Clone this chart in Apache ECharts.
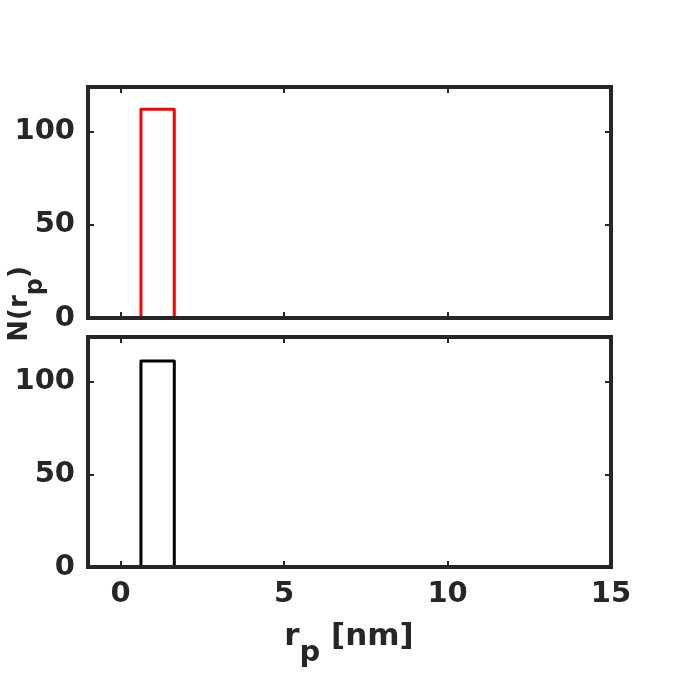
<!DOCTYPE html>
<html>
<head>
<meta charset="utf-8">
<script src="https://cdn.jsdelivr.net/npm/echarts@6/dist/echarts.min.js"></script>
<style>
html, body { margin: 0; padding: 0; background: #fff; }
#chart { width: 675px; height: 675px; }
</style>
</head>
<body>
<div id="chart"></div>
<script>
// histogram data (stairs style), one bin per panel
var binEdges = [0.62, 1.64];
var countsTop = [112];
var countsBottom = [111];
var xTicks = [0, 5, 10, 15];

var axisColor = '#262626';
var font = 'DejaVu Sans';

// turn edges + counts into the outline of a stairs histogram
function stairs(edges, counts) {
    var pts = [[edges[0], 0]];
    for (var i = 0; i < counts.length; i++) {
        pts.push([edges[i], counts[i]]);
        pts.push([edges[i + 1], counts[i]]);
    }
    pts.push([edges[edges.length - 1], 0]);
    return pts;
}

function xAxisOf(grid, pos, labels) {
    return {
        type: 'value', gridIndex: grid, position: pos, min: -1, max: 15,
        axisLine: {show: true, onZero: false, lineStyle: {color: axisColor, width: 4, cap: 'square'}},
        axisTick: {show: true, inside: true, length: 6, customValues: xTicks, lineStyle: {color: axisColor, width: 2}},
        axisLabel: {show: labels, customValues: xTicks, margin: 13, color: axisColor,
            fontFamily: font, fontWeight: 'bold', fontSize: 29},
        splitLine: {show: false},
        z: 5
    };
}

function yAxisOf(grid, pos, labels) {
    return {
        type: 'value', gridIndex: grid, position: pos, min: 0, max: 124, interval: 50,
        axisLine: {show: true, onZero: false, lineStyle: {color: axisColor, width: 4, cap: 'square'}},
        axisTick: {show: true, inside: true, length: 6, lineStyle: {color: axisColor, width: 2}},
        axisLabel: {show: labels, margin: 13, color: axisColor,
            fontFamily: font, fontWeight: 'bold', fontSize: 29,
            showMaxLabel: false},
        splitLine: {show: false},
        z: 5
    };
}

var chart = echarts.init(document.getElementById('chart'));

chart.setOption({
    backgroundColor: '#fff',
    animation: false,
    grid: [
        {left: 88, top: 87, width: 523, height: 231},
        {left: 88, top: 337, width: 523, height: 230}
    ],
    xAxis: [
        xAxisOf(0, 'bottom', false),
        xAxisOf(0, 'top', false),
        xAxisOf(1, 'bottom', true),
        xAxisOf(1, 'top', false)
    ],
    yAxis: [
        yAxisOf(0, 'left', true),
        yAxisOf(0, 'right', false),
        yAxisOf(1, 'left', true),
        yAxisOf(1, 'right', false)
    ],
    series: [
        {
            type: 'line', xAxisIndex: 0, yAxisIndex: 0,
            data: stairs(binEdges, countsTop),
            showSymbol: false,
            lineStyle: {color: '#ff0000', width: 3, join: 'round'},
            z: 2
        },
        {
            type: 'line', xAxisIndex: 2, yAxisIndex: 2,
            data: stairs(binEdges, countsBottom),
            showSymbol: false,
            lineStyle: {color: '#000000', width: 3, join: 'round'},
            z: 2
        }
    ],
    graphic: [
        {
            type: 'text', x: 349, y: 645,
            style: {
                text: '{a|r}{s|p}{a| [nm]}',
                fill: axisColor, fontFamily: font, fontWeight: 'bold', fontSize: 31,
                align: 'center', verticalAlign: 'middle',
                rich: {
                    a: {fontSize: 31, fontWeight: 'bold', fontFamily: font, fill: axisColor, padding: [0, 0, 16, 0]},
                    s: {fontSize: 29, fontWeight: 'bold', fontFamily: font, fill: axisColor, padding: [16, 0, 0, 0]}
                }
            }
        },
        {
            type: 'text', x: 28, y: 304, rotation: Math.PI / 2,
            style: {
                text: '{a|N(r}{s|p}{a|)}',
                fill: axisColor, fontFamily: font, fontWeight: 'bold', fontSize: 26,
                align: 'center', verticalAlign: 'middle',
                rich: {
                    a: {fontSize: 26, fontWeight: 'bold', fontFamily: font, fill: axisColor, padding: [0, 0, 15, 0]},
                    s: {fontSize: 24, fontWeight: 'bold', fontFamily: font, fill: axisColor, padding: [15, 0, 0, 0]}
                }
            }
        }
    ]
});
</script>
</body>
</html>
